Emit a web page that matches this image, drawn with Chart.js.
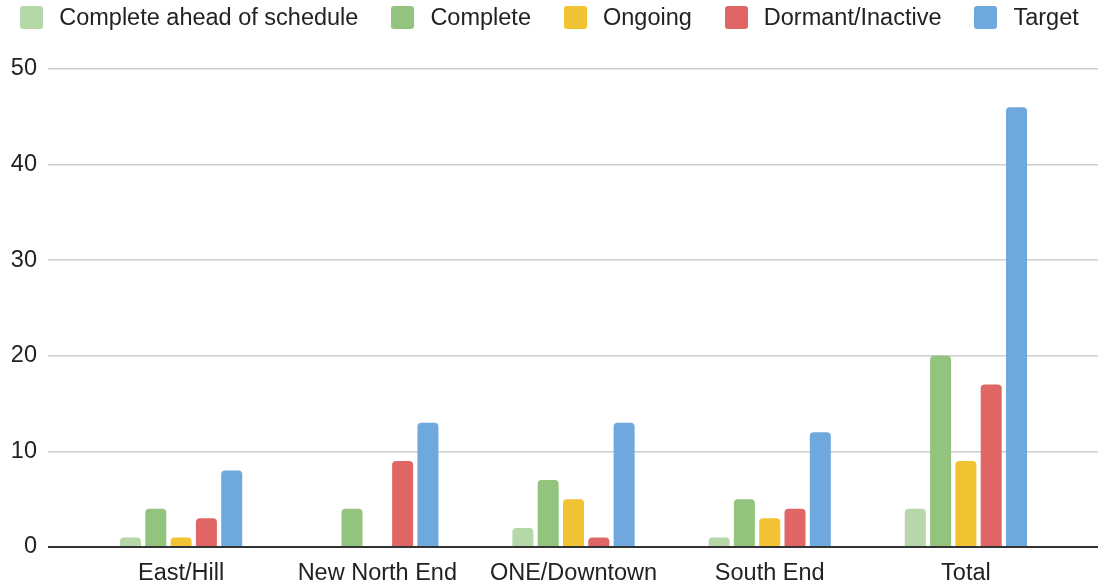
<!DOCTYPE html>
<html>
<head>
<meta charset="utf-8">
<title>Projects by area</title>
<script src="https://cdn.jsdelivr.net/npm/chart.js@4.4.1/dist/chart.umd.min.js"></script>
<style>
  html, body { margin: 0; padding: 0; background: #ffffff; }
  #wrap { position: relative; width: 1099px; height: 585px; }
  #chart { position: absolute; top: 0; left: 0; }
  #legend {
    position: absolute; top: 0; left: 0; width: 1099px; height: 35px;
    display: flex; justify-content: center; align-items: center;
    font: 23.5px "Liberation Sans", Arial, sans-serif; color: #222222;
  }
  .legend-item { display: flex; align-items: center; margin: 0 16.5px; white-space: nowrap; }
  .legend-box { width: 23px; height: 23px; border-radius: 3px; margin-right: 16px; }
</style>
</head>
<body>
<div id="wrap">
  <canvas id="chart" width="1099" height="585"></canvas>
  <div id="legend"></div>
</div>
<script>
// Chart data
const categories = ["East/Hill", "New North End", "ONE/Downtown", "South End", "Total"];
const seriesNames = ["Complete ahead of schedule", "Complete", "Ongoing", "Dormant/Inactive", "Target"];
const aheadOfSchedule = [1, 0, 2, 1, 4];
const complete = [4, 4, 7, 5, 20];
const ongoing = [1, 0, 5, 3, 9];
const dormant = [3, 9, 1, 4, 17];
const target = [8, 13, 13, 12, 46];
const yMin = 0;
const yMax = 50;
const yStep = 10;

const seriesColors = ["#b6d7a8", "#93c47d", "#f1c232", "#e06666", "#6fa8dc"];

document.addEventListener("DOMContentLoaded", function() {
  Chart.defaults.font.family = '"Liberation Sans", Arial, sans-serif';
  Chart.defaults.color = "#222222";

  const values = [aheadOfSchedule, complete, ongoing, dormant, target];

  // zero line is dark, the rest light grey
  const gridColor = function(ctx) {
    return ctx.tick && ctx.tick.value === 0 ? "#333333" : "#cccccc";
  };
  const gridWidth = function(ctx) {
    return ctx.tick && ctx.tick.value === 0 ? 2 : 1.5;
  };

  const chart = new Chart(document.getElementById("chart"), {
    type: "bar",
    data: {
      labels: categories,
      datasets: seriesNames.map(function(name, i) {
        return {
          label: name,
          data: values[i],
          backgroundColor: seriesColors[i],
          borderRadius: 4,
          categoryPercentage: 0.645,
          barPercentage: 0.83
        };
      })
    },
    options: {
      responsive: false,
      animation: false,
      layout: { padding: { top: 69, left: 0, right: 0, bottom: 0 } },
      plugins: {
        legend: { display: false },
        tooltip: { enabled: false }
      },
      scales: {
        x: {
          grid: { display: false, drawTicks: false },
          border: { display: false },
          ticks: { font: { size: 23.5 }, color: "#222222", padding: 12, maxRotation: 0 },
          afterFit: function(scale) { scale.height = 38; }
        },
        y: {
          min: yMin,
          max: yMax,
          ticks: { stepSize: yStep, font: { size: 23.5 }, color: "#222222", padding: 11 },
          grid: { color: gridColor, lineWidth: gridWidth, tickLength: 35 },
          border: { display: false },
          afterFit: function(scale) { scale.width = 83; }
        },
        // invisible right axis only to extend the grid lines to the edge
        yRight: {
          type: "linear",
          position: "right",
          min: yMin,
          max: yMax,
          ticks: { stepSize: yStep, display: false },
          grid: { color: gridColor, lineWidth: gridWidth, tickLength: 34, drawOnChartArea: false },
          border: { display: false },
          afterFit: function(scale) { scale.width = 35; }
        }
      }
    }
  });

  // HTML legend built from the chart's own legend items
  const legendEl = document.getElementById("legend");
  chart.options.plugins.legend.labels.generateLabels(chart).forEach(function(item) {
    const el = document.createElement("div");
    el.className = "legend-item";
    const box = document.createElement("span");
    box.className = "legend-box";
    box.style.background = item.fillStyle;
    const text = document.createElement("span");
    text.textContent = item.text;
    el.appendChild(box);
    el.appendChild(text);
    legendEl.appendChild(el);
  });
});
</script>
</body>
</html>
